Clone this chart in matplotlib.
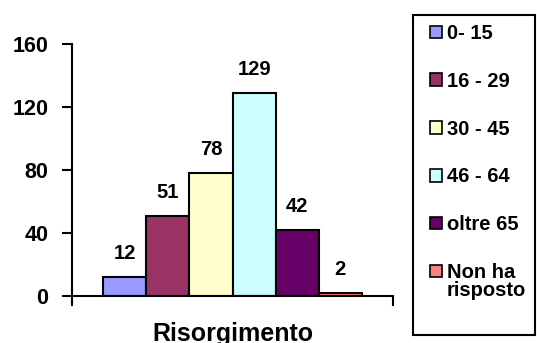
import matplotlib.pyplot as plt

plt.rcParams['font.family'] = ['Liberation Sans', 'DejaVu Sans']
plt.rcParams['font.weight'] = 'bold'

# data
categories = ['0- 15', '16 - 29', '30 - 45', '46 - 64', 'oltre 65', 'Non ha\nrisposto']
values = [12, 51, 78, 129, 42, 2]
colors = ['#9999FF', '#993366', '#FFFFCC', '#CCFFFF', '#660066', '#FF8080']
yticks = [0, 40, 80, 120, 160]
group_label = 'Risorgimento'

W, H = 537, 343
fig = plt.figure(figsize=(W / 100, H / 100), dpi=100)
ax = fig.add_axes([72 / W, 1 - 296 / H, 321 / W, 252 / H])

xs = range(len(values))
ax.bar(xs, values, width=1.0, align='edge', color=colors,
       edgecolor='black', linewidth=1.5)
for x, v in zip(xs, values):
    ax.text(x + 0.5, v + 9, str(v), ha='center', va='bottom',
            fontsize=14.5, fontweight='bold')

ax.set_xlim(-0.72, 6.72)
ax.set_ylim(0, 160)
ax.set_yticks(yticks)
ax.set_yticklabels([str(t) for t in yticks], fontsize=15.5, fontweight='bold')
ax.set_xticks([-0.72, 6.72])
ax.set_xticklabels(['', ''])
ax.tick_params(axis='both', direction='out', length=7, width=1.5)
ax.tick_params(axis='y', pad=10)
for s in ['top', 'right']:
    ax.spines[s].set_visible(False)
ax.spines['left'].set_linewidth(1.5)
ax.spines['bottom'].set_linewidth(1.5)
ax.text(0.5, -0.104, group_label, transform=ax.transAxes, ha='center',
        va='top', fontsize=18, fontweight='bold')

# legend box
fig.patches.append(plt.Rectangle((413 / W, 1 - 335 / H), 122 / W, 320 / H,
                                 transform=fig.transFigure, facecolor='white',
                                 edgecolor='black', linewidth=1.5))
handles = [plt.Rectangle((0, 0), 1, 1, facecolor=c, edgecolor='black',
                         linewidth=1.2) for c in colors]
# first line of each label in the legend, the wrap is added below it
first_lines = [c.split('\n')[0] for c in categories]
leg_size = 14.5
leg = fig.legend(handles, first_lines, loc='upper left',
                 bbox_to_anchor=(430 / W, 1 - 24 / H),
                 prop={'family': 'Liberation Sans', 'weight': 'bold', 'size': leg_size},
                 frameon=False, handlelength=0.6, handleheight=0.6,
                 handletextpad=0.25, labelspacing=1.43, borderpad=0,
                 borderaxespad=0)

fig.canvas.draw()
inv = fig.transFigure.inverted()
for txt, cat in zip(leg.get_texts(), categories):
    parts = cat.split('\n')
    if len(parts) > 1:
        bb = txt.get_window_extent().transformed(inv)
        fig.text(bb.x0, bb.y0 + 1 / H, '\n'.join(parts[1:]), ha='left', va='top',
                 fontsize=leg_size, fontweight='bold')

fig.savefig('out.png', dpi=100)
